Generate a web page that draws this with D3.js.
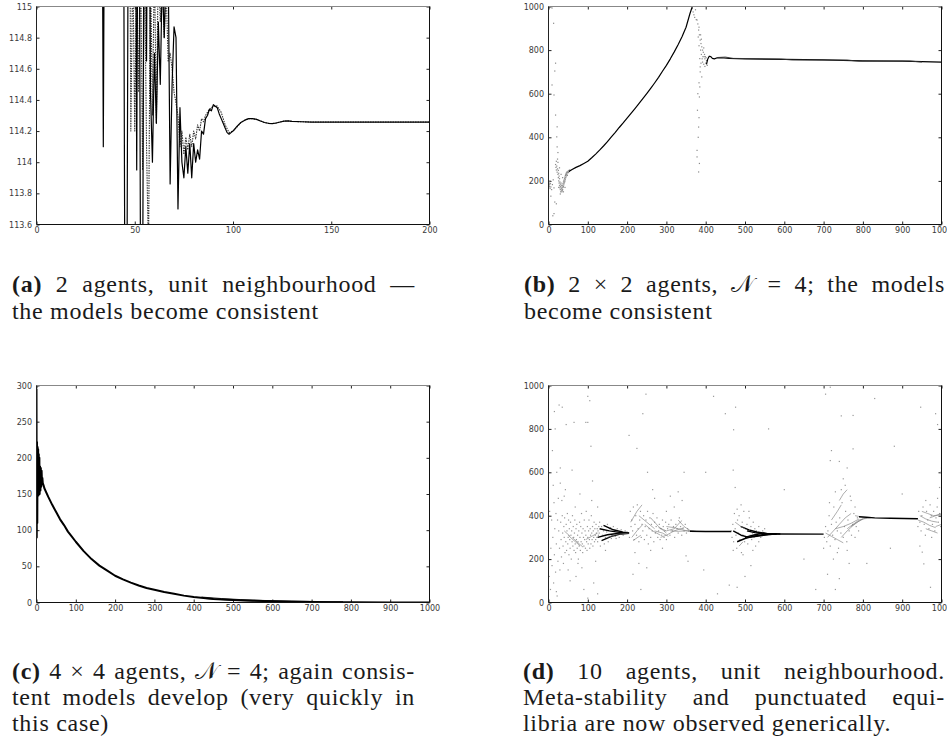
<!DOCTYPE html>
<html><head><meta charset="utf-8">
<script src="https://cdn.jsdelivr.net/npm/d3@7"></script>
<style>body{margin:0;background:#fff}svg{display:block}</style>
</head><body>
<svg id="c" width="947" height="740"></svg>
<script>
// ---------------- DATA ----------------
const aXTicks = [0, 50, 100, 150, 200];
const aYTicks = [113.6, 113.8, 114, 114.2, 114.4, 114.6, 114.8, 115];
const kXTicks = [0, 100, 200, 300, 400, 500, 600, 700, 800, 900, 1000];
const bYTicks = [0, 200, 400, 600, 800, 1000];
const cYTicks = [0, 50, 100, 150, 200, 250, 300];
const dYTicks = [0, 200, 400, 600, 800, 1000];

// (a) two agents' model values (values outside 113.6..115 leave the plot)
const aSolid = [[0,117],[33,117],[34,114.1],[35,117],[44,117],[45,113.0],[46,113.0],[47,117],[50,117],[51,113.95],[52,117],[53,113.0],[54,113.0],[55,117],[56,114.65],[57,117],[58,114.45],[59,114.0],[60,114.7],[61,114.25],[62,114.9],[63,114.5],[64,115.2],[65,114.8],[66,115.3],[67,115.3],[68,113.86],[69,114.5],[70,114.87],[71,114.8],[72,113.7],[73,114.35],[74,114.0],[75,113.9],[76,114.1],[77,113.93],[78,114.12],[79,113.9],[80,114.12],[81,114.0],[82,114.08],[83,114.02],[84,114.2],[85,114.18],[86,114.28],[87,114.3],[88,114.34],[89,114.33],[90,114.37],[91,114.36],[92,114.35],[93,114.31],[94,114.28],[95,114.25],[96,114.22],[97,114.19],[98,114.18],[99,114.19],[100,114.2],[102,114.23],[104,114.255],[106,114.27],[108,114.28],[110,114.28],[112,114.275],[114,114.265],[116,114.255],[118,114.25],[120,114.248],[122,114.252],[124,114.258],[126,114.264],[128,114.265],[130,114.262],[135,114.26],[140,114.258],[200,114.258]];
const aDotted = [[0,117],[47,117],[48,114.2],[49,115.3],[50,114.2],[51,115.3],[52,114.45],[53,115.3],[54,113.95],[55,115.3],[56,114.1],[57,113.4],[58,115.3],[59,114.3],[60,115.3],[61,114.25],[62,115.3],[63,114.9],[64,115.2],[65,114.8],[66,115.1],[67,114.65],[68,114.7],[69,114.6],[70,114.45],[71,114.38],[72,114.3],[73,114.1],[74,114.2],[75,114.05],[76,114.16],[77,114.08],[78,114.18],[79,114.1],[80,114.2],[81,114.15],[82,114.24],[83,114.2],[84,114.28],[85,114.26],[86,114.3],[88,114.34],[90,114.36],[92,114.36],[94,114.32],[96,114.24],[98,114.19],[100,114.2],[102,114.225],[104,114.255],[106,114.27],[108,114.28],[110,114.28],[112,114.275],[114,114.265],[116,114.255],[118,114.25],[120,114.248],[122,114.252],[124,114.258],[126,114.264],[128,114.265],[130,114.262],[135,114.26],[140,114.258],[200,114.258]];

// (b) 2x2 agents
const bRise = [[52,243],[60,252],[70,262],[80,270],[90,280],[100,290],[110,306],[120,323],[130,341],[140,360],[150,380],[160,402],[170,423],[180,445],[190,466],[200,488],[210,510],[220,532],[230,554],[240,577],[250,600],[260,624],[270,649],[280,675],[290,703],[300,730],[310,760],[320,792],[330,826],[340,862],[350,905],[360,968],[366,1000],[382,1000]];
const bSettle = [[402,735],[405,758],[409,772],[413,770],[417,762],[422,760],[428,764],[440,765],[460,762],[500,760],[600,757],[700,755],[800,751],[900,749],[1000,745]];
const bSettle2 = [[430,766],[450,768],[470,762],[590,759],[620,755],[760,754],[790,749],[920,750],[950,745]];
const bDots = [[0,178],[0,192],[1,185],[1,170],[2,198],[2,182],[3,175],[3,190],[4,165],[4,200],[5,187],[6,172],[8,160],[9,993],[10,183],[12,205],[13,923],[14,168],[16,704],[18,740],[9,640],[14,594],[18,502],[22,448],[21,402],[22,356],[24,330],[23,300],[16,103],[14,50],[11,40],[20,95],[6,130],
[18,275],[19,262],[20,250],[21,268],[22,240],[23,255],[24,230],[25,248],[25,215],[26,235],[26,200],[27,222],[27,190],[28,210],[28,178],[29,195],[29,168],[30,185],[30,160],[31,175],[31,150],[32,168],[32,190],[33,158],[33,180],[34,165],[34,150],[35,172],[35,155],[36,160],[36,180],[37,170],[37,188],[38,175],[38,195],[39,182],[39,200],[40,190],[40,205],[41,195],[41,212],[42,200],[42,218],[43,208],[43,225],[44,215],[44,230],[45,222],[45,235],[46,228],[46,240],[47,232],[48,238],[48,225],[49,242],[50,245],[51,238],[52,248],[53,244],[54,250],[20,290],[24,285],[28,260],[32,230],[36,215],[26,170],[30,140],[38,150],[42,170],
[366,990],[368,975],[370,962],[372,950],[374,985],[376,940],[378,938],[380,920],[382,892],[384,870],[386,846],[388,830],[390,815],[392,800],[385,761],[386,723],[390,677],[385,631],[384,585],[379,524],[382,447],[378,340],[378,310],[382,241],[394,790],[396,770],[398,760],[392,745],[395,735],[398,725],[400,740],[402,752],[404,730],[397,780],[393,770],[389,780],[391,760],[387,800],[395,810],[399,770],[401,765],[383,905],[387,870],[381,860],[389,850],[383,820],[388,740],[386,700],[383,650],[380,600],[383,490],[381,400],[384,280]];

// (c) 4x4 agents
const cMain = [[0,295],[0.6,90],[1.2,222],[2,110],[2.8,215],[3.5,150],[4.2,212],[5,148],[5.8,205],[6.5,152],[7.3,200],[8,150],[9,188],[10,155],[11,186],[12,160],[13,182],[14,166],[15,172],[16,165],[18,162],[20,158],[30,146],[40,135],[50,125],[60,115],[70,107],[80,98],[90,91],[100,84],[120,71],[140,60],[160,51],[180,44],[200,37],[220,32],[240,27.5],[260,23.5],[280,20],[300,17.5],[325,14.5],[350,12],[375,9.5],[400,7.5],[450,5],[500,3.5],[550,2.5],[600,1.7],[650,1.2],[700,0.8],[750,0.5],[800,0.3],[900,0.1],[1000,0.05]];
const cTail1 = [[420,7.5],[470,5.5],[520,4],[580,2.8],[650,2],[720,1.3],[780,1]];
const cTail2 = [[430,5.5],[500,3],[600,1.2],[700,0.6],[780,0.4]];

// (d) 10 agents: converged runs and scattered model values
const dRuns = [
 [[125,300],[150,312],[175,318],[205,320]],[[130,340],[155,330],[180,323],[205,321]],[[135,285],[160,305],[185,316],[205,319]],[[140,355],[165,335],[190,324],[205,321]],[[150,300],[175,314],[205,320]],
 [[50,310],[65,285],[80,262]],[[60,300],[75,275],[88,255]],[[40,330],[55,305]],[[95,290],[110,305],[125,320]],
 [[209,370],[225,420],[238,450]],[[212,300],[225,330],[240,360]],[[215,285],[235,310]],[[230,400],[250,370],[270,340]],[[245,360],[265,330],[285,310]],[[260,390],[280,350],[300,320]],[[270,330],[290,320],[305,305]],[[280,345],[300,330],[320,340],[335,370],[340,378]],[[285,300],[300,310],[320,330],[345,345]],[[300,350],[320,345],[340,335],[360,328]],[[330,380],[345,350],[360,332],[375,328]],[[310,330],[330,328],[350,330],[370,328]],
 [[360,328],[400,327],[465,327]],
 [[470,330],[490,310],[510,300],[530,305],[560,313],[580,316]],[[480,280],[500,295],[520,305],[545,312],[580,316]],[[490,350],[510,335],[530,325],[555,318],[580,316]],[[500,300],[520,310],[540,318],[575,316]],[[505,330],[525,322],[550,318],[590,316]],[[475,370],[490,350],[500,340]],[[485,260],[495,280]],
 [[575,316],[700,315]],
 [[705,320],[720,305],[735,290],[750,275]],[[710,300],[725,330],[740,360],[755,390],[770,410]],[[730,340],[750,350],[770,365],[790,385]],[[745,300],[760,330],[775,355],[790,375],[800,385]],[[760,340],[775,360],[790,380],[810,390]],[[720,380],[735,420],[745,450]],[[740,470],[750,500],[760,520]],[[770,350],[785,370],[800,385],[820,390]],[[780,400],[795,395],[820,392]],
 [[790,395],[830,390],[870,388],[940,386]],
 [[940,380],[955,370],[970,355],[985,345]],[[945,400],[960,385],[975,375],[990,370]],[[950,420],[965,410],[980,400],[1000,405]],[[960,340],[975,330],[990,320]],[[970,390],[985,400],[1000,410]],[[985,350],[1000,360]]
];
const dDots = [[2,120],[3,420],[5,60],[6,250],[8,380],[9,170],[10,700],[11,300],[12,540],[13,90],[14,460],[15,220],[16,340],[17,800],[18,140],[19,410],[20,270],[21,600],[22,30],[23,380],[24,190],[25,480],[26,330],[27,910],[28,250],[29,150],[30,620],[31,370],[32,290],[33,210],[34,470],[35,400],[36,320],[37,260],[38,180],[39,350],[40,300],[41,390],[42,230],[43,520],[44,280],[45,360],[46,240],[47,330],[48,410],[49,270],[50,300],[51,380],[52,220],[53,340],[54,290],[55,250],[56,370],[57,310],[58,200],[59,330],[60,280],[61,400],[62,260],[63,350],[64,300],[65,240],[66,320],[67,380],[68,270],[69,230],[70,340],[71,290],[72,360],[73,250],[74,310],[75,280],[76,200],[77,330],[78,260],[79,370],[80,300],[81,240],[82,350],[83,280],[84,410],[85,320],[86,270],[87,230],[88,340],[89,300],[90,260],[91,380],[92,290],[93,330],[94,250],[95,310],[96,420],[97,280],[98,240],[99,350],[100,300],[101,270],[102,330],[103,380],[104,290],[105,250],[106,340],[107,310],[108,270],[109,400],[110,320],[111,290],[112,350],[113,260],[114,330],[115,300],[116,370],[117,280],[118,340],[119,310],[120,290],[121,360],[122,320],[123,300],[124,340],[125,280],[126,330],[127,310],[128,350],[129,320],
[15,880],[35,900],[45,820],[100,950],[105,930],[95,830],[100,830],[108,720],[112,560],[60,610],[40,490],[20,50],[50,150],[70,120],[90,60],[75,180],[100,20],[115,90],[125,40],[85,160],[55,100],[65,830],[120,190],[30,550],[110,470],[80,500],[68,440],[125,440],
[135,350],[140,330],[145,300],[150,360],[155,340],[160,295],[165,350],[170,305],[130,370],[138,310],[148,325],[158,345],[168,330],[175,340],[185,335],[180,300],[190,310],[195,330],[200,325],[142,270],[152,280],[162,310],[172,295],[132,260],[145,240],
[206,300],[208,420],[210,350],[212,380],[214,330],[216,440],[218,290],[220,360],[222,400],[224,310],[226,450],[228,340],[230,280],[232,380],[234,420],[236,300],[238,360],[240,330],[242,400],[244,290],[246,350],[248,380],[250,310],[252,420],[254,270],[256,340],[258,390],[260,300],[262,360],[264,330],[266,410],[268,280],[270,370],[272,320],[274,350],[276,390],[278,300],[280,330],[282,360],[284,290],[286,340],[288,310],[290,380],[292,350],[294,300],[296,330],[298,370],[300,290],[303,340],[306,360],[309,310],[312,380],[315,330],[318,350],[321,300],[324,360],[327,340],[330,320],[333,390],[336,350],[339,310],[342,340],[345,330],[348,360],[351,320],[354,340],[357,330],
[205,770],[225,710],[248,960],[252,600],[240,870],[270,480],[220,230],[260,240],[250,160],[235,60],[215,130],[290,250],[330,510],[340,470],[345,600],[350,215],[355,190],[300,420],[320,440],[310,490],[265,520],[230,180],
[465,330],[467,300],[469,360],[471,280],[473,410],[475,340],[477,310],[479,250],[481,380],[483,320],[485,400],[487,290],[489,350],[491,230],[493,370],[495,310],[497,420],[499,280],[501,340],[503,300],[505,360],[507,270],[509,330],[511,390],[513,310],[515,350],[517,290],[519,320],[521,370],[523,300],[525,340],[527,260],[529,330],[531,310],[535,350],[540,300],[545,330],[550,340],[470,240],[480,430],[495,220],[510,420],[520,240],[475,530],[500,120],[460,80],[470,610],[515,170],[490,450],[535,280],[476,900],[471,796],[480,70],
[702,300],[705,350],[708,280],[711,330],[714,400],[717,260],[720,360],[723,310],[726,440],[729,290],[732,370],[735,330],[738,250],[741,390],[744,320],[747,460],[750,300],[753,350],[756,420],[759,280],[762,380],[765,330],[768,490],[771,310],[774,360],[777,410],[780,300],[783,350],[786,390],[789,330],[745,520],[755,540],[735,230],[725,200],[760,240],[770,470],[780,440],[700,250],[715,460],[730,510],[750,570],[760,620],[740,650],[720,700],[745,860],[705,960],[717,992],[775,862],[775,708],[717,654],[710,130],[740,110],[730,60],[765,180],
[940,350],[942,420],[945,370],[948,330],[950,400],[953,440],[956,360],[959,310],[962,420],[965,380],[968,340],[971,450],[974,400],[977,360],[980,420],[983,330],[986,390],[989,440],[992,370],[995,410],[998,350],[960,470],[975,300],[990,480],[995,530],[998,600],[1000,620],[945,260],[951,232],[955,178],[972,70],[985,870],[947,900],[990,820],
[600,520],[650,200],[560,800],[420,950],[450,870],[430,40],[400,600],[395,150],[680,60],[870,250],[810,180],[900,500],[880,720],[830,940]];

// captions (text only)
const capA = ["**(a)** 2 agents, unit neighbourhood —", "the models become consistent"];
const capB = ["**(b)** 2 × 2 agents, 𝒩 = 4; the models", "become consistent"];
const capC = ["**(c)** 4 × 4 agents, 𝒩 = 4; again consis-", "tent models develop (very quickly in", "this case)"];
const capD = ["**(d)** 10 agents, unit neighbourhood.", "Meta-stability and punctuated equi-", "libria are now observed generically."];

// ---------------- DRAWING ----------------
const svg = d3.select("#c");
let clipN = 0;
const fmt = d3.format("~g");

function styleAxis(sel) {
  sel.attr("font-family", "DejaVu Sans").attr("font-size", 8);
  sel.select(".domain").remove();
  sel.selectAll(".tick line").attr("stroke", "#222");
  sel.selectAll(".tick text").attr("fill", "#3a3a3a");
}

function makePanel(box, xd, yd, xt, yt) {
  const g = svg.append("g");
  const x = d3.scaleLinear().domain(xd).range([box.l, box.r]);
  const y = d3.scaleLinear().domain(yd).range([box.b, box.t]);
  const id = "clip" + (++clipN);
  svg.append("clipPath").attr("id", id).append("rect")
    .attr("x", box.l).attr("y", box.t).attr("width", box.r - box.l).attr("height", box.b - box.t);
  g.append("g").attr("transform", `translate(0,${box.b})`)
    .call(d3.axisBottom(x).tickValues(xt).tickSize(-3).tickPadding(3).tickFormat(fmt)).call(styleAxis);
  g.append("g").attr("transform", `translate(0,${box.t})`)
    .call(d3.axisTop(x).tickValues(xt).tickSize(-3).tickFormat("")).call(styleAxis);
  g.append("g").attr("transform", `translate(${box.l},0)`)
    .call(d3.axisLeft(y).tickValues(yt).tickSize(-3).tickPadding(4.5).tickFormat(fmt)).call(styleAxis);
  g.append("g").attr("transform", `translate(${box.r},0)`)
    .call(d3.axisRight(y).tickValues(yt).tickSize(-3).tickFormat("")).call(styleAxis);
  const plot = g.append("g").attr("clip-path", `url(#${id})`);
  return {x, y, g, plot, box};
}

function frame(p) {
  const b = p.box;
  p.g.append("line").attr("x1", b.l).attr("x2", b.r).attr("y1", b.t).attr("y2", b.t).attr("stroke", "#888");
  p.g.append("line").attr("x1", b.l).attr("x2", b.r).attr("y1", b.b).attr("y2", b.b).attr("stroke", "#111");
  p.g.append("line").attr("x1", b.l).attr("x2", b.l).attr("y1", b.t).attr("y2", b.b).attr("stroke", "#222");
  p.g.append("line").attr("x1", b.r).attr("x2", b.r).attr("y1", b.t).attr("y2", b.b).attr("stroke", "#111");
}

function drawLine(p, data, w, color, dash) {
  const line = d3.line().x(d => p.x(d[0])).y(d => p.y(d[1]));
  const path = p.plot.append("path").datum(data).attr("d", line)
    .attr("fill", "none").attr("stroke", color).attr("stroke-width", w).attr("stroke-linejoin", "round");
  if (dash) path.attr("stroke-dasharray", dash);
}

function drawDots(p, data, color) {
  p.plot.selectAll(null).data(data).enter().append("rect")
    .attr("x", d => p.x(d[0]) - 0.6).attr("y", d => p.y(d[1]) - 0.6)
    .attr("width", 1.2).attr("height", 1.2).attr("fill", color);
}

// (a)
const pA = makePanel({l:36.5, t:6.5, r:429.5, b:224.5}, [0, 200], [113.6, 115], aXTicks, aYTicks);
drawLine(pA, aDotted, 1.1, "#333", "1.5,1");
drawLine(pA, aSolid, 1.2, "#000");
frame(pA);

// (b)
const pB = makePanel({l:548.5, t:6.5, r:941.5, b:224.5}, [0, 1000], [0, 1000], kXTicks, bYTicks);
drawDots(pB, bDots, "#8a8a8a");
drawLine(pB, bRise, 1.2, "#000");
drawLine(pB, bSettle, 1.2, "#000");
drawLine(pB, bSettle2, 0.9, "#333");
frame(pB);

// (c)
const pC = makePanel({l:36.5, t:385.5, r:429.5, b:602.5}, [0, 1000], [0, 300], kXTicks, cYTicks);
drawLine(pC, cTail1, 1, "#222");
drawLine(pC, cTail2, 1, "#444");
drawLine(pC, cMain, 2, "#000");
frame(pC);

// (d)
const pD = makePanel({l:548.5, t:385.5, r:941.5, b:602.5}, [0, 1000], [0, 1000], kXTicks, dYTicks);
drawDots(pD, dDots, "#999");
dRuns.forEach(r => {
  const long = r[r.length-1][0] - r[0][0] > 60;
  drawLine(pD, r, long ? 1.4 : 0.6, long ? "#000" : "#777");
});
frame(pD);

// captions
function caption(lines, x0, y0, dy, width) {
  lines.forEach((ln, i) => {
    const t = svg.append("text").attr("x", x0).attr("y", y0 + i * dy)
      .attr("font-family", "'Liberation Serif', 'Times New Roman', serif")
      .attr("font-size", 24).attr("letter-spacing", 0.7).attr("fill", "#1a1a1a");
    ln.split(/(\*\*[^*]+\*\*)/).filter(s => s.length).forEach(s => {
      if (s.startsWith("**")) t.append("tspan").attr("font-weight", "bold").text(s.slice(2, -2));
      else t.append("tspan").text(s);
    });
    if (i < lines.length - 1) {
      const w = t.node().getComputedTextLength();
      const n = (ln.match(/ /g) || []).length;
      if (n) t.attr("word-spacing", (width - w) / n);
    }
  });
}
caption(capA, 12, 292, 27, 403);
caption(capB, 524, 292, 27, 421);
caption(capC, 12, 679, 26, 403);
caption(capD, 523, 679, 26, 422);
</script>
</body></html>
